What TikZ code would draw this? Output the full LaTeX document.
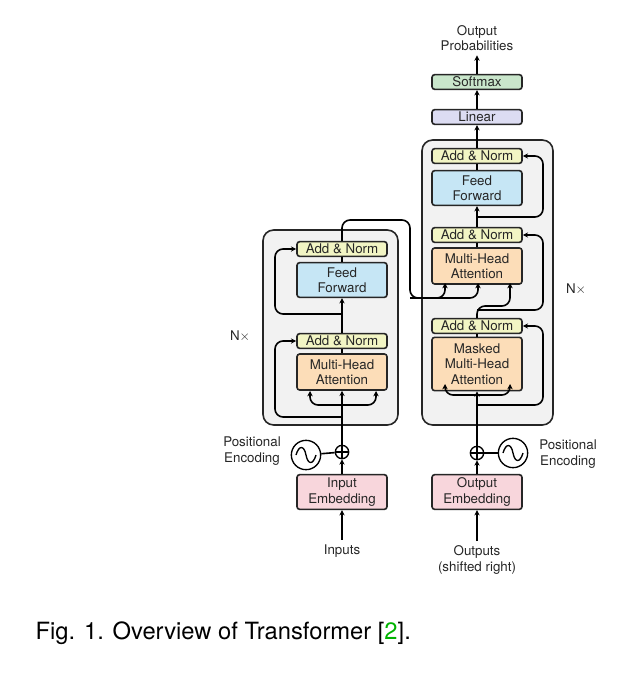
\documentclass[tikz,border=0pt]{standalone}
\usepackage{fontspec}
\setmainfont{TeX Gyre Heros}
\usetikzlibrary{arrows.meta}
\definecolor{normfill}{HTML}{F2F5C4}\definecolor{normdraw}{HTML}{3A3A2A}
\definecolor{fffill}{HTML}{C6E6F5}
\definecolor{attfill}{HTML}{FCDDB8}
\definecolor{embfill}{HTML}{F8D6DC}
\definecolor{linfill}{HTML}{DCDCF2}
\definecolor{smfill}{HTML}{C9E6CB}
\definecolor{blockfill}{HTML}{F2F2F2}
\begin{document}
\begin{tikzpicture}[
    x=0.75pt, y=-0.75pt,
    every node/.style={font=\fontsize{10}{11.5}\selectfont, align=center, text=black!85},
    layer/.style={draw=black!85, line width=1.2pt, rounded corners=2pt, minimum width=67.5pt, inner sep=0pt},
    norm/.style={layer, fill=normfill, minimum height=11pt},
    ff/.style={layer, fill=fffill, minimum height=26pt},
    att/.style={layer, fill=attfill, minimum height=27pt},
    emb/.style={layer, fill=embfill, minimum height=26pt},
    block/.style={draw=black!85, line width=1.2pt, fill=blockfill, rounded corners=8pt},
    wire/.style={line width=1.2pt, rounded corners=6pt},
    arr/.style={wire, -{Stealth[length=4pt,width=4pt]}}
    ]
    \useasboundingbox (0,0) rectangle (622,674);
    % blocks
    \draw[block] (263,230) rectangle (398,425);
    \draw[block] (422,140) rectangle (553,425);
    % encoder
    \node[norm] (enorm2) at (342,249) {Add \& Norm};
    \node[ff] (eff) at (342,280) {Feed\\Forward};
    \node[norm] (enorm1) at (342,341) {Add \& Norm};
    \node[att] (eatt) at (342,372) {Multi-Head\\Attention};
    \node[emb] (eemb) at (342,492) {Input\\Embedding};
    \node (inputs) at (342,551) {Inputs};
    \node (enx) at (240,336) {N$\times$};
    \node[draw, line width=1pt, circle, inner sep=0pt, minimum size=10pt] (eplus) at (342,452) {};
    \draw[line width=0.8pt] (eplus.north) -- (eplus.south) (eplus.west) -- (eplus.east);
    \node[draw, line width=1pt, circle, minimum size=22pt, inner sep=0pt] (esin) at (306,455) {};
    \draw[line width=1pt] (296,455) .. controls (299,445) and (304,445) .. (306,455) .. controls (308,465) and (313,465) .. (316,455);
    \node (epos) at (252,451) {Positional\\Encoding};
    % decoder
    \node[norm] (dnorm3) at (477,156) {Add \& Norm};
    \node[ff] (dff) at (477,188) {Feed\\Forward};
    \node[norm] (dnorm2) at (477,235) {Add \& Norm};
    \node[att] (datt) at (477,266) {Multi-Head\\Attention};
    \node[norm] (dnorm1) at (477,326) {Add \& Norm};
    \node[att, minimum height=40pt] (dmask) at (477,364) {Masked\\Multi-Head\\Attention};
    \node[emb] (demb) at (477,492) {Output\\Embedding};
    \node (outputs) at (477,560) {Outputs\\(shifted right)};
    \node (dnx) at (576,289) {N$\times$};
    \node[draw, line width=1pt, circle, inner sep=0pt, minimum size=10pt] (dplus) at (477,453) {};
    \draw[line width=0.8pt] (dplus.north) -- (dplus.south) (dplus.west) -- (dplus.east);
    \node[draw, line width=1pt, circle, minimum size=22pt, inner sep=0pt] (dsin) at (513,453) {};
    \draw[line width=1pt] (503,453) .. controls (506,443) and (511,443) .. (513,453) .. controls (515,463) and (520,463) .. (523,453);
    \node (dpos) at (568,454) {Positional\\Encoding};
    \node[layer, fill=linfill, minimum height=11pt] (linear) at (477,117) {Linear};
    \node[layer, fill=smfill, minimum height=11pt] (softmax) at (477,82) {Softmax};
    \node (outprob) at (477,38) {Output\\Probabilities};
    \node[anchor=west, font=\fontsize{17.8}{20}\selectfont, text=black] (caption) at (31,633) {Fig. 1. Overview of Transformer [\textcolor{green!70!black}{2}].};
    % encoder wires
    \draw[arr] (inputs) -- (eemb);
    \draw[arr] (eemb) -- (eplus);
    \draw[wire] (esin) -- (eplus);
    \draw[arr] (eplus) -- (eatt);
    \draw[arr] (342,405) -| (310,391);
    \draw[arr] (342,405) -| (376,391);
    \draw[arr] (342,417) -| (275,341) -- (enorm1.west);
    \draw[wire] (eatt) -- (enorm1);
    \draw[arr] (enorm1) -- (eff);
    \draw[arr] (342,314) -| (275,249) -- (enorm2.west);
    \draw[wire] (eff) -- (enorm2);
    \draw[arr] (enorm2.north) |- (410,220) |- (478,298) -- (478,283);
    \draw[arr] (410,298) -| (445,283);
    % decoder wires
    \draw[arr] (outputs) -- (demb);
    \draw[arr] (demb) -- (dplus);
    \draw[wire] (dsin) -- (dplus);
    \draw[arr] (dplus) -- (dmask);
    \draw[arr] (477,395) -| (445,384);
    \draw[arr] (477,395) -| (510,384);
    \draw[arr] (477,405) -| (543,326) -- (dnorm1.east);
    \draw[wire] (dmask) -- (dnorm1);
    \draw[arr] (dnorm1.north) |- (510,306) -- (510,283);
    \draw[arr] (477,310) -| (543,235) -- (dnorm2.east);
    \draw[wire] (datt) -- (dnorm2);
    \draw[arr] (dnorm2) -- (dff);
    \draw[arr] (477,217) -| (543,156) -- (dnorm3.east);
    \draw[wire] (dff) -- (dnorm3);
    \draw[arr] (dnorm3) -- (linear);
    \draw[arr] (linear) -- (softmax);
    \draw[arr] (softmax) -- (outprob);
\end{tikzpicture}
\end{document}
